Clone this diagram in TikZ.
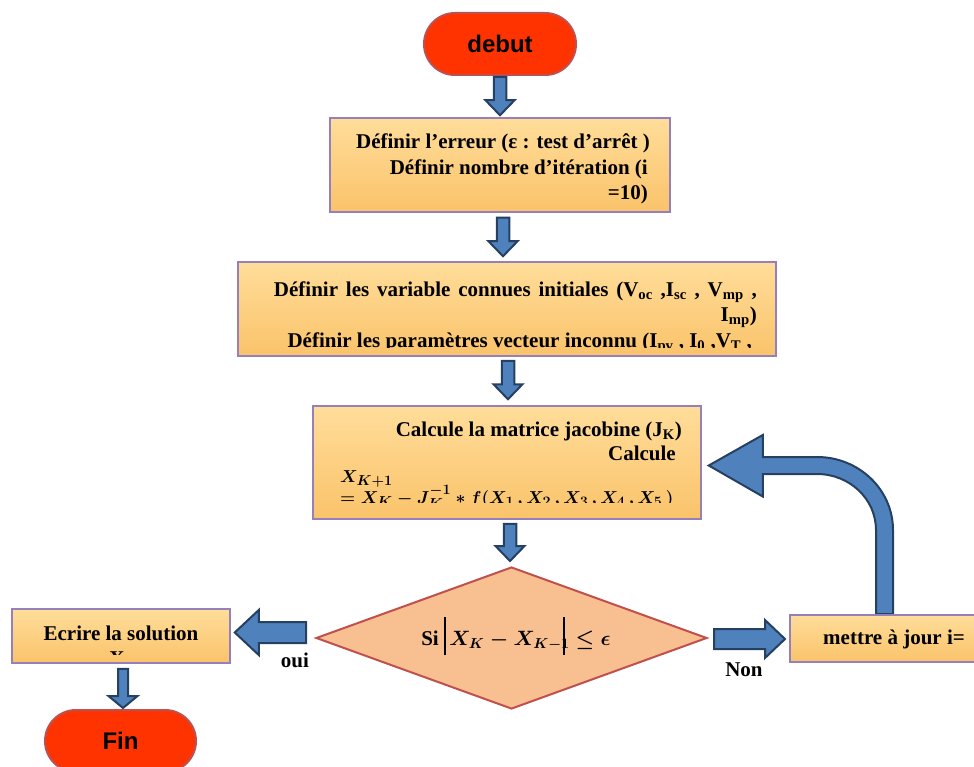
\documentclass[tikz,border=0pt]{standalone}
\usepackage{fontspec}
\setmainfont{Liberation Serif}
\newfontfamily\arialfont{Liberation Sans}
\usetikzlibrary{shapes.geometric,calc}
\definecolor{boxtop}{RGB}{255,221,154}
\definecolor{boxbot}{RGB}{250,195,106}
\definecolor{boxline}{RGB}{150,128,186}
\definecolor{diafill}{RGB}{248,192,144}
\definecolor{dialine}{RGB}{192,80,77}
\definecolor{termfill}{RGB}{255,51,0}
\definecolor{termline}{RGB}{190,80,80}
\definecolor{arrfill}{RGB}{79,129,189}
\definecolor{arrline}{RGB}{37,64,97}
\tikzset{
  procbox/.style={rectangle, draw=boxline, line width=1.5pt, top color=boxtop, bottom color=boxbot, inner sep=0pt},
  termbox/.style={rectangle, draw=termline, line width=2pt, fill=termfill, rounded corners=31pt,
    minimum width=152pt, minimum height=62pt, inner sep=0pt, font=\arialfont\bfseries\fontsize{24}{28}\selectfont},
  decision/.style={diamond, draw=dialine, line width=2pt, fill=diafill, inner sep=0pt},
  barrow/.style={draw=arrline, line width=2pt, fill=arrfill, line join=miter},
  lbl/.style={inner sep=0pt, font=\fontsize{21}{25.5}\selectfont\bfseries},
  mlbl/.style={inner sep=0pt, font=\fontsize{19}{23}\selectfont\bfseries\boldmath},
  dlbl/.style={inner sep=0pt, font=\fontsize{21}{25.5}\selectfont\bfseries\boldmath},
}
\newcommand\absbar{\rule[-10pt]{1.8pt}{38pt}}
\newcommand\eqA{$X_{K+1}$}
\newcommand\eqB{$= X_K - J_K^{-1} \ast f(X_1\,,X_2\,,X_3\,,X_4\,,X_5\,)$}
\newcommand\eqC{Si \absbar\,{\fontsize{20}{24}\selectfont$X_K - X_{K-1}$\hspace{-7pt}\absbar\hspace{11pt}$\le \epsilon$}}
% block arrows: start, end, shaft half width, head half width, head length
\newcommand\blockdown[5]{%
  \draw[barrow] let \p1=#1, \p2=#2 in
   (\x1-#3,\y1) -- (\x1+#3,\y1) -- (\x1+#3,\y2+#5) -- (\x1+#4,\y2+#5) -- (\x1,\y2)
   -- (\x1-#4,\y2+#5) -- (\x1-#3,\y2+#5) -- cycle;}
\newcommand\blockleft[5]{%
  \draw[barrow] let \p1=#1, \p2=#2 in
   (\x1,\y1-#3) -- (\x1,\y1+#3) -- (\x2+#5,\y1+#3) -- (\x2+#5,\y1+#4) -- (\x2,\y1)
   -- (\x2+#5,\y1-#4) -- (\x2+#5,\y1-#3) -- cycle;}
\newcommand\blockright[5]{%
  \draw[barrow] let \p1=#1, \p2=#2 in
   (\x1,\y1-#3) -- (\x1,\y1+#3) -- (\x2-#5,\y1+#3) -- (\x2-#5,\y1+#4) -- (\x2,\y1)
   -- (\x2-#5,\y1-#4) -- (\x2-#5,\y1-#3) -- cycle;}
\begin{document}
\begin{tikzpicture}[x=1pt,y=-1pt]
\useasboundingbox (0,0) rectangle (974,767);
\clip (0,0) rectangle (974,767);

% ---------- nodes ----------
\node[termbox] (debut) at (500,44) {debut};
\node[procbox, minimum width=340pt, minimum height=94pt] (box1) at (500,165) {};
\node[procbox, minimum width=538pt, minimum height=94pt] (box2) at (507,309) {};
\node[procbox, minimum width=388pt, minimum height=113pt] (box3) at (507,462.5) {};
\node[decision, minimum width=391pt, minimum height=142pt] (dec) at (511.5,638) {};
\node[procbox, minimum width=218pt, minimum height=54pt] (ecrire) at (121,636) {};
\node[termbox, minimum width=151pt] (fin) at (120.5,741) {Fin};
\coordinate (loopfoot) at (884.5,614);

% curved feedback arrow (drawn before the update box)
\draw[barrow] let \p1=(loopfoot), \p2=($(box3.east)+(7,3)$) in
  (\x1-8.5pt,\y1) -- (\x1-8.5pt,\y1+84pt)
  .. controls (\x1-8.5pt,\y1+114.9pt) and (\x1-34.9pt,\y2-8.5pt) .. (\x1-67.5pt,\y2-8.5pt)
  -- (\x2+54pt,\y2-8.5pt) -- (\x2+54pt,\y2-31pt) -- (\x2,\y2) -- (\x2+54pt,\y2+30.5pt)
  -- (\x2+54pt,\y2+8.5pt) -- (\x1-67.5pt,\y2+8.5pt)
  .. controls (\x1-25.5pt,\y2+8.5pt) and (\x1+8.5pt,\y1+124.3pt) .. (\x1+8.5pt,\y1+84pt)
  -- (\x1+8.5pt,\y1) -- cycle;
\node[procbox, minimum width=260pt, minimum height=47pt, anchor=north west] (mettre) at (789,614) {};

% ---------- texts ----------
\node[lbl, anchor=base east] (t1a) at (650,149) {Définir l’erreur (ε : test d’arrêt )};
\node[lbl, anchor=base east] (t1b) at (648,174.5) {Définir nombre d’itération (i};
\node[lbl, anchor=base east] (t1c) at (648,200) {=10)};

\begin{scope}
\clip (238,262) rectangle (776,347.5);
\node[lbl, anchor=base east] (t2a) at (757,296) {\spaceskip=7.8pt plus 1pt Définir les variable connues initiales (V\textsubscript{oc} ,I\textsubscript{sc} , V\textsubscript{mp} ,};
\node[lbl, anchor=base east] (t2b) at (757,321.5) {I\textsubscript{mp})};
\node[lbl, anchor=base east] (t2c) at (752,347) {Définir les paramètres vecteur inconnu (I\textsubscript{pv} , I\textsubscript{0} ,V\textsubscript{T} ,};
\end{scope}

\begin{scope}
\clip (313,406) rectangle (701,502);
\node[lbl, anchor=base east] (t3a) at (682,436) {Calcule la matrice jacobine (J\textsubscript{K})};
\node[lbl, anchor=base east] (t3b) at (676,460.5) {Calcule};
\node[mlbl, anchor=base west] (t3c) at (340,482) {\eqA};
\node[mlbl, anchor=base west] (t3d) at (340,503) {\eqB};
\end{scope}

\node[dlbl, anchor=base] (t4) at (516,645) {\eqC};

\begin{scope}
\clip (12,609) rectangle (230,654);
\node[lbl, anchor=base] (t5a) at (121,640) {Ecrire la solution};
\node[lbl, anchor=base] (t5b) at (117,665.5) {X};
\end{scope}

\node[lbl, anchor=base west] (t6) at (823,644) {mettre à jour i=};
\node[lbl, anchor=base] (oui) at (295,667) {oui};
\node[lbl, anchor=base] (non) at (744,676) {Non};

% ---------- connectors ----------
\blockdown{([yshift=-1pt]debut.south)}{([yshift=2pt]box1.north)}{6.25pt}{14.5pt}{15pt}
\blockdown{([xshift=3pt,yshift=-5pt]box1.south)}{([yshift=5pt]box2.north)}{6.25pt}{14.5pt}{15pt}
\blockdown{([xshift=1pt,yshift=-4pt]box2.south)}{([yshift=6pt]box3.north)}{6.25pt}{14.5pt}{15pt}
\blockdown{([xshift=3pt,yshift=-4pt]box3.south)}{([yshift=5pt]dec.north)}{6.25pt}{14.5pt}{15pt}
\blockdown{([xshift=2pt,yshift=-5pt]ecrire.south)}{([yshift=1pt]fin.north)}{5pt}{14.5pt}{12pt}
\blockleft{([xshift=-9pt,yshift=5.5pt]dec.west)}{([xshift=4pt]ecrire.east)}{10.5pt}{22.5pt}{24pt}
\blockright{([xshift=6pt,yshift=-1pt]dec.east)}{([xshift=-4pt]mettre.west)}{10pt}{19pt}{20pt}
\end{tikzpicture}
\end{document}
